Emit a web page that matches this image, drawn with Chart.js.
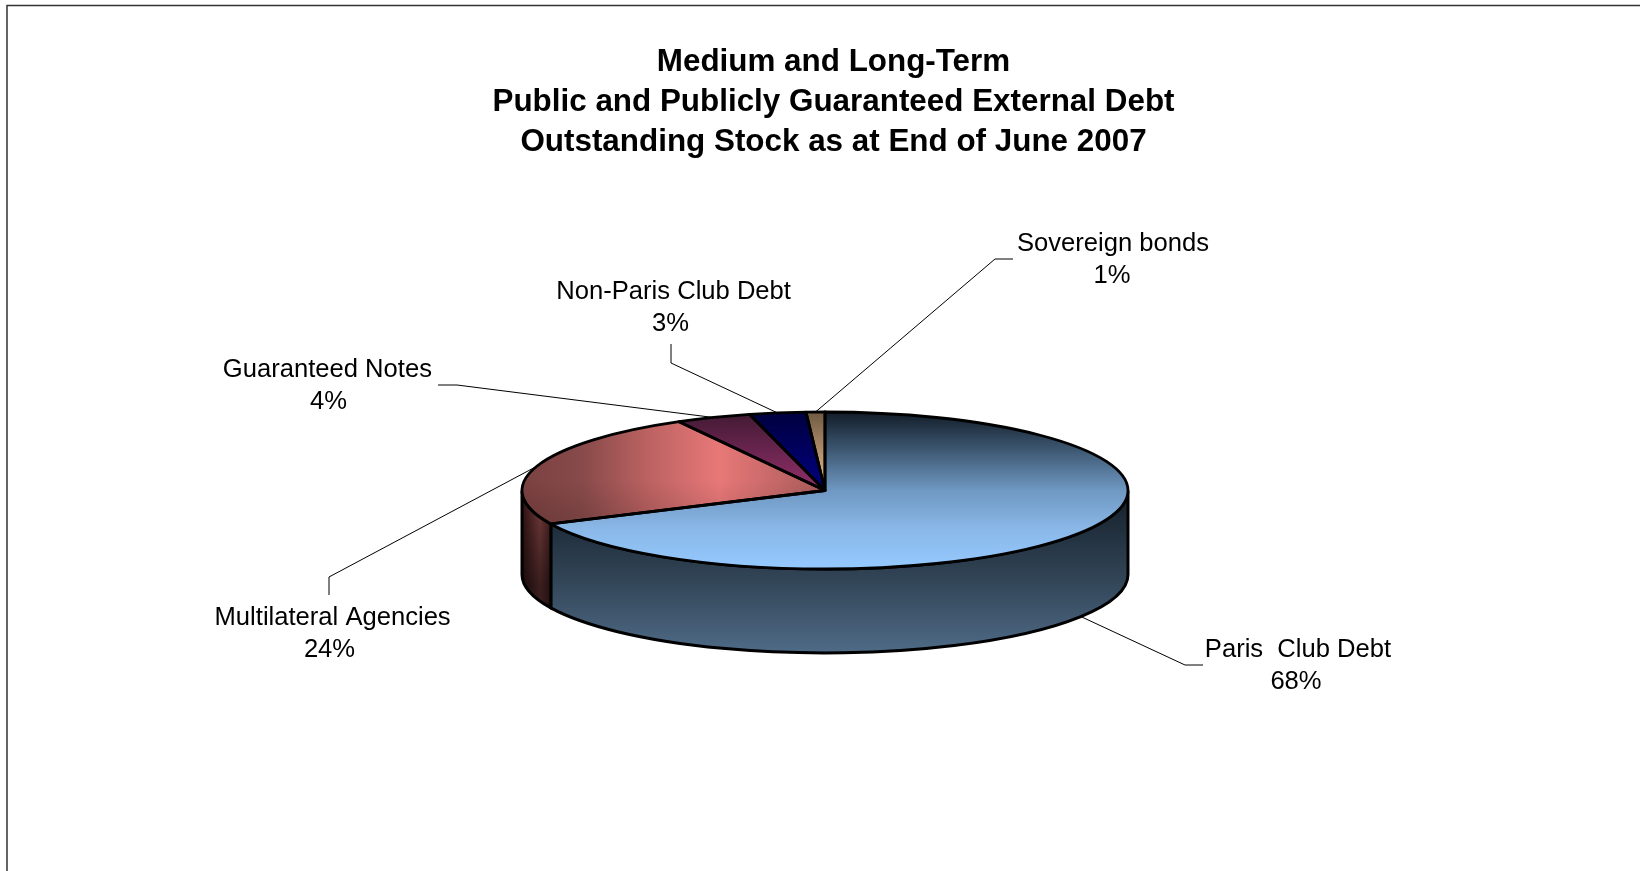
<!DOCTYPE html>
<html>
<head>
<meta charset="utf-8">
<title>External Debt</title>
<script src="https://cdn.jsdelivr.net/npm/chart.js@4"></script>
<style>
  html, body { margin: 0; padding: 0; background: #fff; }
  canvas { display: block; }
</style>
</head>
<body>
<canvas id="debt-chart" width="1640" height="871"></canvas>
<script>
// Debt stock shares, clockwise from twelve o'clock
const categories = ["Paris  Club Debt", "Multilateral Agencies", "Guaranteed Notes", "Non-Paris Club Debt", "Sovereign bonds"];
const shares = [68, 24, 4, 3, 1];
const titleLines = ["Medium and Long-Term", "Public and Publicly Guaranteed External Debt", "Outstanding Stock as at End of June 2007"];

// Pie geometry
const pieX = 825;
const pieY = 490.5;
const pieRadius = 303;
const squash = 78.5 / 303;
const wallDepth = 84;

// Label text position and leader bends, one entry per category
const labelSpots = [
  { x: 1298, y: 650, pctX: 1296, bends: [[1185, 665], [1203, 665]] },
  { x: 332.6, y: 617.5, pctX: 329.5, bends: [[329, 577], [329, 595]] },
  { x: 327.4, y: 370, pctX: 328.5, bends: [[457, 385], [438, 385]] },
  { x: 673.6, y: 292, pctX: 670.5, bends: [[671, 363], [671, 344]] },
  { x: 1113, y: 244, pctX: 1112, bends: [[995, 259], [1013, 259]] },
];
const labelGap = 32;

const ctx = document.getElementById("debt-chart").getContext("2d");

// The top face is drawn squashed, so screen y has to be converted for its gradients
const faceY = (y) => pieY + (y - pieY) / squash;

function linear(x0, y0, x1, y1, stops) {
  const g = ctx.createLinearGradient(x0, y0, x1, y1);
  stops.forEach(([at, color]) => g.addColorStop(at, color));
  return g;
}

function faceGradient(stops) {
  return linear(0, faceY(412), 0, faceY(569), stops);
}

const faceColors = [
  faceGradient([[0, "#121c27"], [0.25, "#3f5a75"], [0.5, "#6f98c2"], [0.75, "#8ab8e8"], [1, "#95c9ff"]]),
  linear(522, 0, 825, 0, [[0, "#7b4141"], [0.2, "#884a4a"], [0.42, "#bd6262"], [0.65, "#e87878"], [1, "#a85a5a"]]),
  linear(0, faceY(412), 0, faceY(490), [[0, "#411a33"], [1, "#932f6b"]]),
  linear(0, faceY(412), 0, faceY(490), [[0, "#00003f"], [1, "#000080"]]),
  linear(0, faceY(412), 0, faceY(490), [[0, "#6f5a44"], [1, "#ecc18f"]]),
];

const wallColors = [
  linear(0, pieY, 0, pieY + 163, [[0, "#141f2a"], [0.5, "#2f4152"], [1, "#4f6b87"]]),
  linear(522, 0, 552, 0, [[0, "#2b1111"], [0.6, "#6b3737"], [1, "#3d1b1b"]]),
  null,
  null,
  null,
];

function slicePath(c, arc) {
  c.beginPath();
  c.moveTo(arc.x, arc.y);
  c.ellipse(arc.x, arc.y, arc.outerRadius, arc.outerRadius * squash, 0, arc.startAngle, arc.endAngle);
  c.closePath();
}

// Side wall and leader lines around the library's arcs
const piePlugin = {
  id: "flatPie",
  afterLayout(chart) {
    // title sits a little right of the pie
    chart.titleBlock.left += 17;
  },
  beforeDraw(chart) {
    const c = chart.ctx;
    c.save();
    c.strokeStyle = "#333";
    c.lineWidth = 1.5;
    c.beginPath();
    c.moveTo(7, 871);
    c.lineTo(7, 5.5);
    c.lineTo(1640, 5.5);
    c.stroke();
    c.restore();
  },
  beforeDatasetsDraw(chart) {
    const c = chart.ctx;
    const arcs = chart.getDatasetMeta(0).data;
    c.save();
    c.lineWidth = 3;
    c.strokeStyle = "#000";
    arcs.forEach((arc, i) => {
      const from = Math.max(arc.startAngle, 0);
      const to = Math.min(arc.endAngle, Math.PI);
      if (from >= to) return;
      const ry = arc.outerRadius * squash;
      c.beginPath();
      c.ellipse(arc.x, arc.y, arc.outerRadius, ry, 0, from, to);
      c.ellipse(arc.x, arc.y + wallDepth, arc.outerRadius, ry, 0, to, from, true);
      c.closePath();
      c.fillStyle = wallColors[i];
      c.fill();
      if (i === 1) {
        c.fillStyle = linear(0, pieY + 20, 0, pieY + 95, [[0, "rgba(0,0,0,0)"], [1, "rgba(0,0,0,0.45)"]]);
        c.fill();
      }
      c.stroke();
    });
    c.restore();

    c.save();
    c.translate(0, pieY);
    c.scale(1, squash);
    c.translate(0, -pieY);
  },
  afterDatasetsDraw(chart) {
    const c = chart.ctx;
    c.restore();
    const arcs = chart.getDatasetMeta(0).data;
    c.save();

    // darker lower edge on the red slice
    slicePath(c, arcs[1]);
    c.fillStyle = linear(0, pieY - 10, 0, pieY + 35, [[0, "rgba(0,0,0,0)"], [1, "rgba(0,0,0,0.14)"]]);
    c.fill();

    c.strokeStyle = "#000";
    c.lineWidth = 2.8;
    c.lineJoin = "round";
    arcs.forEach((arc) => {
      slicePath(c, arc);
      c.stroke();
    });

    // leaders start on the rim at the middle of each slice
    c.lineWidth = 1;
    arcs.forEach((arc, i) => {
      const mid = (arc.startAngle + arc.endAngle) / 2;
      const front = Math.sin(mid) > 0 ? wallDepth : 0;
      c.beginPath();
      c.moveTo(arc.x + arc.outerRadius * Math.cos(mid), arc.y + arc.outerRadius * squash * Math.sin(mid) + front);
      labelSpots[i].bends.forEach(([x, y]) => c.lineTo(x, y));
      c.stroke();
    });

    const total = shares.reduce((a, b) => a + b, 0);
    c.fillStyle = "#000";
    c.font = "25.6px 'Liberation Sans'";
    c.textAlign = "center";
    c.textBaseline = "middle";
    categories.forEach((name, i) => {
      c.fillText(name, labelSpots[i].x, labelSpots[i].y);
      c.fillText(Math.round((shares[i] / total) * 100) + "%", labelSpots[i].pctX, labelSpots[i].y + labelGap);
    });
    c.restore();
  },
};

new Chart(ctx, {
  type: "pie",
  data: {
    labels: categories,
    datasets: [
      {
        data: shares,
        backgroundColor: faceColors,
        borderWidth: 0,
        radius: pieRadius,
      },
    ],
  },
  options: {
    responsive: false,
    animation: false,
    events: [],
    layout: {
      padding: { left: 10, right: 0, top: 0, bottom: 52.5 },
    },
    plugins: {
      legend: { display: false },
      tooltip: { enabled: false },
      title: {
        display: true,
        text: titleLines,
        color: "#000",
        font: { family: "'Liberation Sans'", size: 31.4, weight: "bold", lineHeight: 40 / 31.4 },
        padding: { top: 42.5, bottom: 0 },
      },
    },
  },
  plugins: [piePlugin],
});
</script>
</body>
</html>
